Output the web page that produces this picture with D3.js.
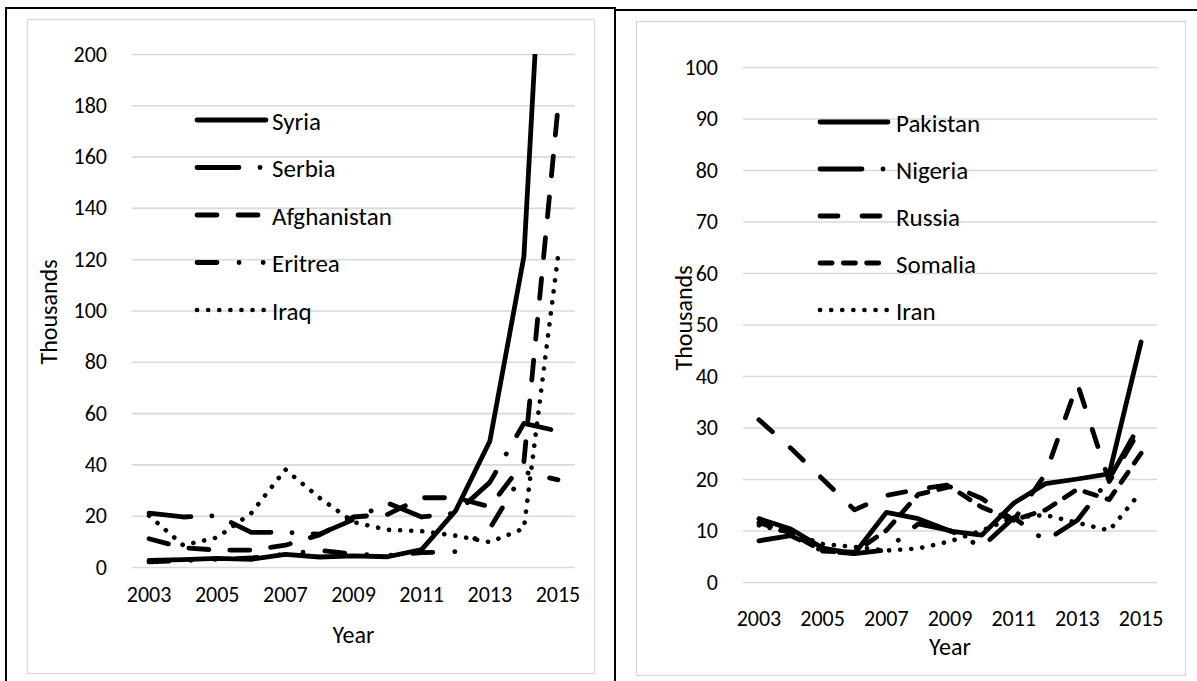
<!DOCTYPE html>
<html>
<head>
<meta charset="utf-8">
<script src="https://cdn.jsdelivr.net/npm/d3@7"></script>
<style>
  html, body { margin: 0; padding: 0; background: #fff; }
  svg { display: block; }
  text { font-family: Carlito, Calibri, Lato, "Open Sans", sans-serif; fill: #000; }
</style>
</head>
<body>
<svg id="chart" width="1197" height="681"></svg>
<script>
// ---------- data ----------
const years = [2003, 2004, 2005, 2006, 2007, 2008, 2009, 2010, 2011, 2012, 2013, 2014, 2015];
const xTickLabels = [2003, 2005, 2007, 2009, 2011, 2013, 2015];

const leftNames = ["Syria", "Serbia", "Afghanistan", "Eritrea", "Iraq"];
const syria       = [2.6, 2.9, 3.4, 3.0, 4.9, 3.9, 4.3, 4.0, 6.8, 22.0, 49.0, 121.0, 363.0];
const serbia      = [21.0, 19.5, 20.0, 13.5, 13.5, 12.8, 18.5, 25.0, 19.5, 21.0, 33.0, 56.0, 53.0];
const afghanistan = [11.0, 7.5, 6.6, 6.6, 8.5, 12.5, 19.5, 20.5, 27.0, 27.0, 23.5, 41.0, 179.0];
const eritrea     = [2.0, 2.5, 3.0, 3.5, 5.0, 6.5, 5.0, 4.5, 5.6, 6.0, 15.0, 37.0, 34.0];
const iraq        = [20.0, 8.5, 11.5, 21.0, 38.0, 27.0, 17.5, 14.5, 14.0, 12.2, 9.7, 15.0, 121.0];
const leftTicks = [0, 20, 40, 60, 80, 100, 120, 140, 160, 180, 200];

const rightNames = ["Pakistan", "Nigeria", "Russia", "Somalia", "Iran"];
const pakistan = [12.3, 10.3, 6.6, 5.5, 13.5, 12.3, 9.9, 9.1, 15.3, 19.1, 20.0, 21.0, 46.6];
const nigeria  = [8.0, 9.0, 6.0, 5.5, 6.2, 11.3, 10.0, 6.8, 12.5, 8.0, 12.0, 20.0, 31.0];
const russia   = [31.5, 26.0, 20.0, 14.0, 16.8, 18.0, 18.9, 16.2, 12.0, 21.0, 38.5, 19.5, 30.0];
const somalia  = [11.5, 9.5, 6.0, 5.8, 10.0, 17.0, 18.5, 14.5, 12.0, 14.0, 18.0, 16.0, 25.0];
const iran     = [11.0, 9.5, 7.4, 6.8, 6.1, 6.5, 7.9, 10.0, 12.5, 13.0, 11.5, 10.0, 17.5];
const rightTicks = [0, 10, 20, 30, 40, 50, 60, 70, 80, 90, 100];

// ---------- styles ----------
const W = 4.8;
const dashStyles = {
  solid: null,
  longDashDot: "42 21 0.1 21",
  dash: "20 21",
  longDashDotDot: "20 22 0.1 24 0.1 22",
  roundDot: "0.1 11",
  sysDash: "12.2 11.1",
  medDash: "18 24"
};
const FONT = "Carlito, Calibri, Lato, sans-serif";

const svg = d3.select("#chart");

// outer table borders
const borders = svg.append("g").attr("stroke", "#000").attr("stroke-width", 2);
borders.append("line").attr("x1", 6).attr("x2", 6).attr("y1", 7).attr("y2", 681);
borders.append("line").attr("x1", 5).attr("x2", 615).attr("y1", 8).attr("y2", 8);
borders.append("line").attr("x1", 615).attr("x2", 1197).attr("y1", 10).attr("y2", 10);
borders.append("line").attr("x1", 615).attr("x2", 615).attr("y1", 7).attr("y2", 681);

function panel(cfg) {
  const g = svg.append("g");
  g.append("rect").attr("x", cfg.frame[0] + 0.5).attr("y", cfg.frame[1] + 0.5)
    .attr("width", cfg.frame[2] - cfg.frame[0]).attr("height", cfg.frame[3] - cfg.frame[1])
    .attr("fill", "none").attr("stroke", "#d9d9d9").attr("stroke-width", 1.3);

  const x = d3.scaleBand().domain(years).range([cfg.x0, cfg.x1]);
  const y = d3.scaleLinear().domain([0, cfg.ymax]).range([cfg.y0, cfg.y1]);
  const cx = d => x(d) + x.bandwidth() / 2;

  const gy = g.append("g").attr("transform", `translate(${cfg.x0},0)`)
    .call(d3.axisLeft(y).tickValues(cfg.ticks).tickSize(-(cfg.x1 - cfg.x0)).tickPadding(25).tickFormat(d3.format("d")));
  gy.select(".domain").remove();
  gy.selectAll(".tick line").attr("stroke", "#d9d9d9").attr("stroke-width", 1.6);
  gy.selectAll(".tick text").attr("font-size", cfg.fs).attr("fill", "#000").style("font-family", FONT);

  const gx = g.append("g").attr("transform", `translate(0,${cfg.y0})`)
    .call(d3.axisBottom(x).tickValues(xTickLabels).tickSize(0).tickPadding(cfg.xPad));
  gx.select(".domain").remove();
  gx.selectAll(".tick text").attr("font-size", cfg.fs).attr("fill", "#000").style("font-family", FONT);

  g.append("text").attr("transform", `translate(${cfg.ytX},${cfg.ytY}) rotate(-90)`)
    .attr("text-anchor", "middle").attr("dominant-baseline", "central")
    .attr("font-size", cfg.tfs).text("Thousands");
  g.append("text").attr("x", (cfg.x0 + cfg.x1) / 2).attr("y", cfg.xtY)
    .attr("text-anchor", "middle").attr("dominant-baseline", "central")
    .attr("font-size", cfg.tfs).text("Year");

  const clipId = "clip" + cfg.id;
  svg.append("clipPath").attr("id", clipId).append("rect")
    .attr("x", cfg.x0 - 10).attr("y", cfg.y1).attr("width", cfg.x1 - cfg.x0 + 20).attr("height", cfg.y0 - cfg.y1 + 10);

  const line = d3.line().x((d, i) => cx(years[i])).y(d => y(d));
  const lg = g.append("g").attr("clip-path", `url(#${clipId})`);
  cfg.series.forEach(s => {
    lg.append("path").datum(s.values)
      .attr("d", line)
      .attr("fill", "none").attr("stroke", "#000")
      .attr("stroke-width", s.style === "roundDot" ? 4.6 : W)
      .attr("stroke-linecap", "round").attr("stroke-linejoin", "round")
      .attr("stroke-dasharray", dashStyles[s.style]);
  });

  const leg = g.append("g");
  cfg.series.forEach((s, k) => {
    const ly = cfg.legY0 + k * cfg.legDy;
    leg.append("line").attr("x1", cfg.legX0 + 2).attr("x2", cfg.legX1).attr("y1", ly).attr("y2", ly)
      .attr("stroke", "#000").attr("stroke-width", s.style === "roundDot" ? 4.6 : W)
      .attr("stroke-linecap", "round")
      .attr("stroke-dasharray", dashStyles[s.style]);
    leg.append("text").attr("x", cfg.legTX).attr("y", ly + 1).attr("dominant-baseline", "central")
      .attr("font-size", cfg.lfs).text(s.name);
  });
}

panel({
  id: "L", frame: [27, 19, 594, 673],
  x0: 132, x1: 575, y0: 567, y1: 54, ymax: 200, ticks: leftTicks,
  fs: 22, lfs: 25, tfs: 24, xPad: 19, ytX: 48, ytY: 312, xtY: 634,
  legX0: 195, legX1: 266, legTX: 272, legY0: 120, legDy: 47.5,
  series: [
    { name: leftNames[0], values: syria, style: "solid" },
    { name: leftNames[1], values: serbia, style: "longDashDot" },
    { name: leftNames[2], values: afghanistan, style: "dash" },
    { name: leftNames[3], values: eritrea, style: "longDashDotDot" },
    { name: leftNames[4], values: iraq, style: "roundDot" }
  ]
});

panel({
  id: "R", frame: [636, 21, 1185, 675],
  x0: 743, x1: 1157, y0: 582, y1: 67, ymax: 100, ticks: rightTicks,
  fs: 22, lfs: 25, tfs: 24, xPad: 28, ytX: 683, ytY: 318, xtY: 646,
  legX0: 818, legX1: 888, legTX: 896, legY0: 122, legDy: 47,
  series: [
    { name: rightNames[0], values: pakistan, style: "solid" },
    { name: rightNames[1], values: nigeria, style: "longDashDot" },
    { name: rightNames[2], values: russia, style: "medDash" },
    { name: rightNames[3], values: somalia, style: "sysDash" },
    { name: rightNames[4], values: iran, style: "roundDot" }
  ]
});
</script>
</body>
</html>
